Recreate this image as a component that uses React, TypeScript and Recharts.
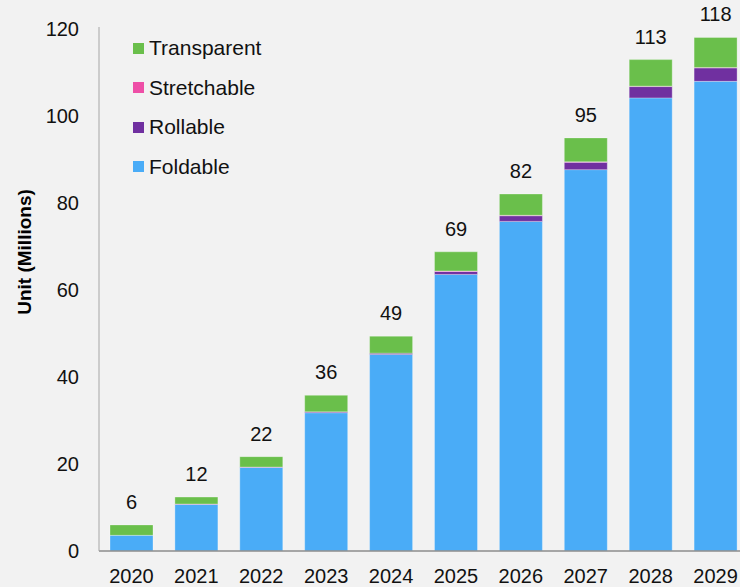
import { BarChart, Bar, XAxis, YAxis, LabelList } from 'recharts';

const years = ['2020', '2021', '2022', '2023', '2024', '2025', '2026', '2027', '2028', '2029'];
const foldable = [3.6, 10.7, 19.2, 31.8, 45.2, 63.6, 75.8, 87.7, 104.2, 108.0];
const rollable = [0, 0.1, 0.1, 0.2, 0.3, 0.7, 1.3, 1.7, 2.6, 3.1];
const stretchable = [0, 0, 0, 0, 0, 0.1, 0.1, 0.1, 0.1, 0.1];
const transparent = [2.4, 1.6, 2.4, 3.8, 3.9, 4.4, 4.9, 5.5, 6.1, 6.9];
const yTicks = [0, 20, 40, 60, 80, 100, 120];

const series = [
  { key: 'foldable', name: 'Foldable', color: '#4aacf7' },
  { key: 'rollable', name: 'Rollable', color: '#7030a0' },
  { key: 'stretchable', name: 'Stretchable', color: '#ee4fa7' },
  { key: 'transparent', name: 'Transparent', color: '#6abf4b' },
];

const chartData = years.map((year, i) => ({
  year,
  foldable: foldable[i],
  rollable: rollable[i],
  stretchable: stretchable[i],
  transparent: transparent[i],
  total: Math.round(foldable[i] + rollable[i] + stretchable[i] + transparent[i]),
}));

const font = '"Liberation Sans", Arial, sans-serif';

export default function App() {
  return (
    <div
      style={{
        position: 'absolute',
        left: 0,
        top: 0,
        width: 740,
        height: 587,
        overflow: 'hidden',
        background: '#f2f2f2',
        fontFamily: font,
      }}
    >
      <BarChart
        width={748}
        height={587}
        data={chartData}
        margin={{ top: 27, right: 0, left: 0, bottom: 0 }}
        barSize={43}
      >
        <XAxis
          dataKey="year"
          axisLine={{ stroke: '#8c8c8c', strokeWidth: 1.5 }}
          tickLine={false}
          tickSize={0}
          tickMargin={18}
          height={36}
          tick={{ fill: '#111', fontSize: 20, fontFamily: font }}
          interval={0}
        />
        <YAxis
          domain={[0, 120.5]}
          ticks={yTicks}
          width={99}
          axisLine={{ stroke: '#a6a6a6', strokeWidth: 1 }}
          tickLine={false}
          tickSize={0}
          tickMargin={20}
          tick={{ fill: '#111', fontSize: 20, fontFamily: font }}
          label={{
            content: () => (
              <text
                x={24}
                y={252}
                transform="rotate(-90 24 252)"
                textAnchor="middle"
                dominantBaseline="central"
                fill="#000"
                fontSize={19}
                fontWeight="bold"
                fontFamily={font}
              >
                Unit (Millions)
              </text>
            ),
          }}
        />
        {series.map((s) => (
          <Bar
            key={s.key}
            dataKey={s.key}
            name={s.name}
            stackId="a"
            fill={s.color}
            stroke="rgba(255,255,255,0.3)"
            strokeWidth={1}
            isAnimationActive={false}
          >
            {s.key === 'transparent' && (
              <LabelList
                dataKey="total"
                position="top"
                offset={16}
                fill="#111"
                fontSize={20}
                fontFamily={font}
              />
            )}
          </Bar>
        ))}
      </BarChart>
      <div style={{ position: 'absolute', left: 133, top: 28.5 }}>
        {[...series].reverse().map((s) => (
          <div key={s.key} style={{ display: 'flex', alignItems: 'center', height: 39.5 }}>
            <span style={{ width: 11, height: 11, background: s.color, display: 'inline-block' }} />
            <span style={{ marginLeft: 5, fontSize: 21, color: '#111' }}>{s.name}</span>
          </div>
        ))}
      </div>
    </div>
  );
}
